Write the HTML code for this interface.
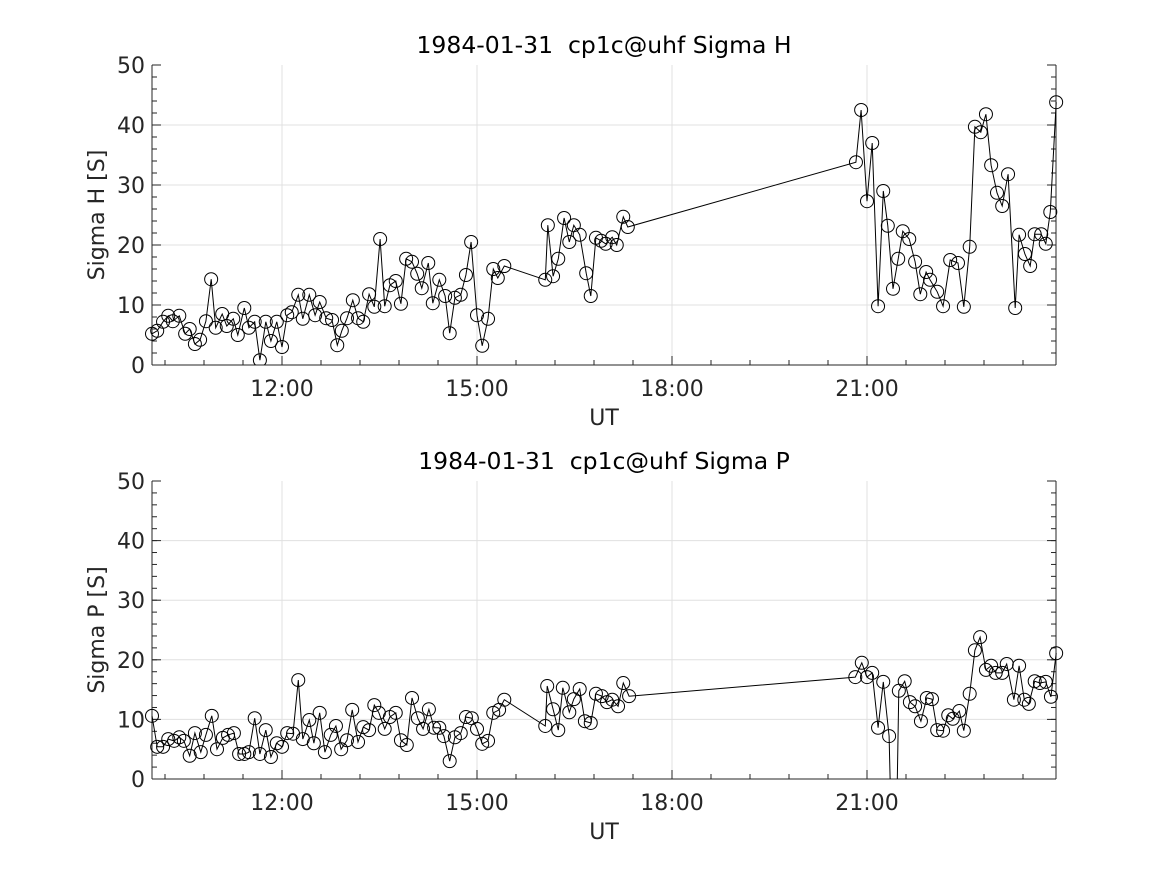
<!DOCTYPE html>
<html><head><meta charset="utf-8"><style>
html,body{margin:0;padding:0;background:#fff;overflow:hidden;width:1167px;height:875px;}
svg{display:block;font-family:"DejaVu Sans","Liberation Sans",sans-serif;}
text{white-space:pre;}
</style></head><body>
<svg id="chart" width="1167" height="875" viewBox="0 0 1167 875" xmlns="http://www.w3.org/2000/svg"></svg>
<script>
// Top panel: Sigma H
const timesH = [10.00,10.08,10.17,10.25,10.32,10.42,10.51,10.58,10.66,10.74,10.83,10.91,10.98,11.08,11.15,11.25,11.32,11.42,11.49,11.58,11.66,11.75,11.83,11.92,12.00,12.08,12.15,12.25,12.32,12.42,12.51,12.58,12.68,12.77,12.85,12.92,13.00,13.09,13.17,13.25,13.34,13.42,13.51,13.58,13.66,13.75,13.83,13.91,14.00,14.08,14.15,14.25,14.32,14.42,14.51,14.58,14.66,14.75,14.83,14.91,15.00,15.08,15.17,15.25,15.32,15.42,16.05,16.09,16.17,16.25,16.34,16.42,16.49,16.58,16.68,16.75,16.83,16.91,16.98,17.08,17.15,17.25,17.32,20.83,20.91,21.00,21.08,21.17,21.25,21.32,21.40,21.48,21.55,21.65,21.74,21.82,21.91,21.97,22.08,22.17,22.28,22.40,22.49,22.58,22.66,22.75,22.83,22.91,23.00,23.08,23.17,23.28,23.34,23.43,23.51,23.58,23.68,23.75,23.82,23.91];
const valuesH = [5.2,5.7,7.2,8.2,7.3,8.2,5.2,6.0,3.5,4.2,7.3,14.3,6.2,8.5,6.5,7.7,5.0,9.5,6.2,7.2,0.8,7.2,4.0,7.2,3.0,8.3,8.8,11.7,7.7,11.7,8.3,10.5,7.8,7.5,3.3,5.7,7.8,10.8,7.8,7.2,11.8,9.7,21.0,9.8,13.3,14.0,10.2,17.7,17.2,15.2,12.8,17.0,10.3,14.2,11.5,5.3,11.2,11.7,15.0,20.5,8.3,3.2,7.7,16.0,14.5,16.5,14.2,23.3,14.8,17.7,24.5,20.5,23.3,21.7,15.3,11.5,21.2,20.7,20.2,21.3,20.0,24.7,23.0,33.8,42.5,27.3,37.0,9.8,29.0,23.2,12.7,17.7,22.3,21.0,17.2,11.8,15.5,14.2,12.2,9.8,17.5,17.0,9.7,19.7,39.7,38.8,41.8,33.3,28.7,26.5,31.8,9.5,21.7,18.5,16.5,21.8,21.8,20.2,25.5,43.8];
// Bottom panel: Sigma P
const timesP = [10.00,10.08,10.17,10.25,10.34,10.42,10.49,10.58,10.66,10.75,10.83,10.92,11.00,11.09,11.17,11.26,11.34,11.42,11.49,11.58,11.66,11.75,11.83,11.92,12.00,12.08,12.17,12.25,12.32,12.42,12.49,12.58,12.66,12.75,12.83,12.91,13.00,13.08,13.17,13.25,13.34,13.42,13.49,13.58,13.66,13.75,13.83,13.92,14.00,14.09,14.17,14.26,14.34,14.42,14.49,14.58,14.66,14.75,14.83,14.92,15.00,15.08,15.17,15.25,15.34,15.42,16.05,16.08,16.17,16.25,16.32,16.42,16.49,16.58,16.66,16.75,16.83,16.92,17.00,17.08,17.17,17.25,17.34,20.82,20.92,21.00,21.08,21.17,21.25,21.34,21.42,21.49,21.58,21.66,21.74,21.83,21.92,22.00,22.08,22.17,22.25,22.32,22.42,22.49,22.58,22.66,22.74,22.83,22.91,22.98,23.08,23.15,23.26,23.34,23.42,23.49,23.58,23.66,23.75,23.83,23.91];
const valuesP = [10.6,5.4,5.4,6.7,6.4,7.0,6.4,3.9,7.7,4.5,7.4,10.6,5.0,6.9,7.4,7.7,4.2,4.2,4.5,10.2,4.2,8.2,3.7,6.0,5.4,7.7,7.6,16.6,6.7,9.9,6.0,11.1,4.5,7.4,8.9,5.0,6.5,11.6,6.2,8.7,8.2,12.4,11.1,8.4,10.4,11.1,6.5,5.7,13.6,10.2,8.4,11.7,8.6,8.6,7.2,3.0,7.0,7.7,10.4,10.2,8.4,5.9,6.4,11.1,11.6,13.3,8.9,15.6,11.7,8.2,15.3,11.2,13.4,15.1,9.7,9.4,14.3,13.9,12.9,13.3,12.2,16.1,13.9,17.1,19.5,17.1,17.8,8.6,16.3,7.2,-30,14.8,16.4,12.9,12.2,9.7,13.6,13.4,8.2,8.1,10.7,10.1,11.4,8.1,14.3,21.6,23.8,18.3,19.0,17.8,17.8,19.3,13.3,19.0,13.3,12.6,16.4,16.1,16.3,13.8,21.1];
const yTicks = [0,10,20,30,40,50];
const xTickHours = [12,15,18,21];
const xTickLabels = ["12:00","15:00","18:00","21:00"];

const NS = "http://www.w3.org/2000/svg";
const svg = document.getElementById('chart');
const X0 = 152, X1 = 1056, T0 = 10, T1 = 10 + (1056-152)/65;
function xs(t){ return X0 + (t - T0) / (T1 - T0) * (X1 - X0); }
function mk(tag, attrs, parent){
  const e = document.createElementNS(NS, tag);
  for (const k in attrs) e.setAttribute(k, attrs[k]);
  (parent || svg).appendChild(e);
  return e;
}
function panel(key, top, bottom, title, ylabel, times, values){
  const g = mk('g', {});
  
  
  const ys = v => bottom - v / 50 * (bottom - top);
  yTicks.forEach(v => { if (v>0 && v<50) mk('line',{x1:X0,x2:X1,y1:ys(v),y2:ys(v),stroke:'#e0e0e0','stroke-width':1},g); });
  xTickHours.forEach(h => mk('line',{x1:xs(h),x2:xs(h),y1:top,y2:bottom,stroke:'#e0e0e0','stroke-width':1},g));
  for (let v=0; v<=50; v+=2){ const y=ys(v); mk('line',{x1:X0,x2:X0+5,y1:y,y2:y,stroke:'#262626'},g); mk('line',{x1:X1,x2:X1-5,y1:y,y2:y,stroke:'#262626'},g); }
  yTicks.forEach(v => { const y=ys(v); mk('line',{x1:X0,x2:X0+9,y1:y,y2:y,stroke:'#262626'},g); mk('line',{x1:X1,x2:X1-9,y1:y,y2:y,stroke:'#262626'},g);
    const tl = mk('text',{x:X0-7,y:y+8,'text-anchor':'end','font-size':22,fill:'#262626'},g); tl.textContent = v;
    
     });
  for (let t = 12 - 0.6*3; t <= T1; t += 0.6){ if (t < T0) continue; const x=xs(t); mk('line',{x1:x,x2:x,y1:bottom,y2:bottom-5,stroke:'#262626'},g); }
  xTickHours.forEach((h,i) => { const x=xs(h); mk('line',{x1:x,x2:x,y1:bottom,y2:bottom-9,stroke:'#262626'},g);
    const tl = mk('text',{x:x,y:bottom+31,'text-anchor':'middle','font-size':22,fill:'#262626'},g); tl.textContent = xTickLabels[i];
    
     });
  mk('line',{x1:X0,x2:X0,y1:top,y2:bottom,stroke:'#262626'},g);
  mk('line',{x1:X1,x2:X1,y1:top,y2:bottom,stroke:'#262626'},g);
  mk('line',{x1:X0,x2:X1,y1:bottom,y2:bottom,stroke:'#262626'},g);
  const cp = mk('clipPath',{id:'clip-'+key},g);
  mk('rect',{x:0,y:top-15,width:1167,height:bottom-top+15},cp);
  const dg = mk('g',{'clip-path':'url(#clip-'+key+')'},g);
  
  
  let d = '';
  times.forEach((t,i) => { d += (i?'L':'M') + xs(t).toFixed(1) + ',' + ys(values[i]).toFixed(1); });
  const line = mk('path',{d:d,fill:'none',stroke:'#000','stroke-width':1},dg);
  
  
  times.forEach((t,i) => { const c = mk('circle',{cx:xs(t),cy:ys(values[i]),r:6.5,fill:'none',stroke:'#000','stroke-width':1},dg);
    
     });
  const tt = mk('text',{x:(X0+X1)/2,y:top-12,'text-anchor':'middle','font-size':23.5,fill:'#000'},g); tt.textContent = title;
  
  
  const xl = mk('text',{x:(X0+X1)/2,y:bottom+60,'text-anchor':'middle','font-size':22,fill:'#262626'},g); xl.textContent = 'UT';
  
  
  const cy = (top+bottom)/2;
  const yl = mk('text',{x:104,y:cy,'text-anchor':'middle','font-size':22,fill:'#262626',transform:'rotate(-90 104 '+cy+')'},g); yl.textContent = ylabel;
  
  
}
panel('sigma-h', 65, 365, '1984-01-31  cp1c@uhf Sigma H', 'Sigma H [S]', timesH, valuesH);
panel('sigma-p', 481, 779, '1984-01-31  cp1c@uhf Sigma P', 'Sigma P [S]', timesP, valuesP);
</script>
</body></html>
